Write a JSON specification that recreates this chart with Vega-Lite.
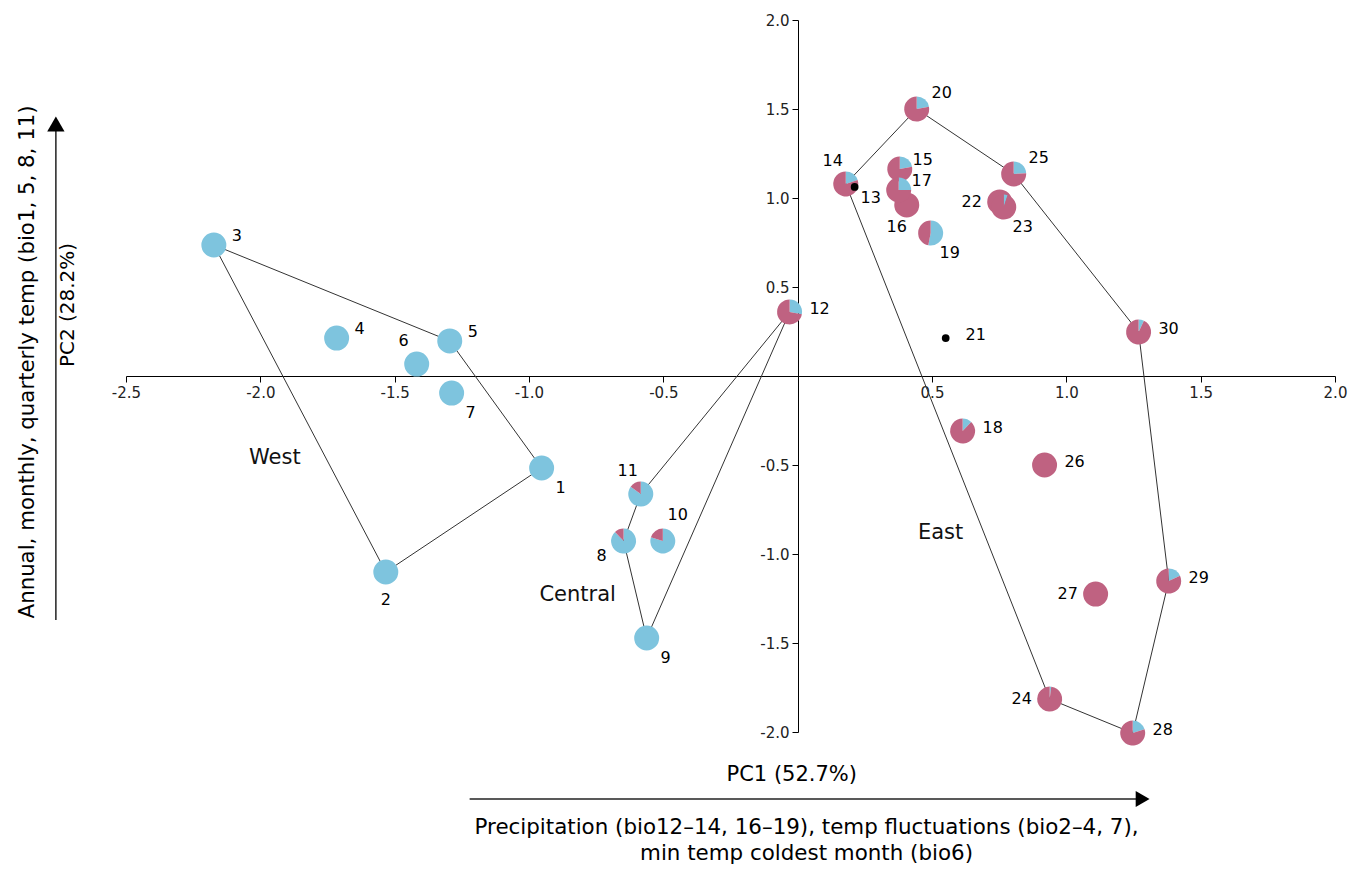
{
  "$schema": "https://vega.github.io/schema/vega-lite/v6.json",
  "width": 1209,
  "height": 712,
  "autosize": "none",
  "padding": {"left": 126, "top": 20, "right": 13, "bottom": 138},
  "background": "white",
  "config": {"view": {"stroke": null}, "font": "DejaVu Sans"},
  "datasets": {
    "pts": [
      {"id": "1", "x": -0.953, "y": -0.517, "blue": 1, "maroon": 0, "kind": "pie", "side": "dr"},
      {"id": "2", "x": -1.533, "y": -1.101, "blue": 1, "maroon": 0, "kind": "pie", "side": "d"},
      {"id": "3", "x": -2.173, "y": 0.736, "blue": 1, "maroon": 0, "kind": "pie", "side": "ur"},
      {"id": "4", "x": -1.716, "y": 0.213, "blue": 1, "maroon": 0, "kind": "pie", "side": "ur"},
      {"id": "5", "x": -1.295, "y": 0.197, "blue": 1, "maroon": 0, "kind": "pie", "side": "ur"},
      {"id": "6", "x": -1.418, "y": 0.067, "blue": 1, "maroon": 0, "kind": "pie", "side": "ul"},
      {"id": "7", "x": -1.288, "y": -0.096, "blue": 1, "maroon": 0, "kind": "pie", "side": "dr"},
      {"id": "8", "x": -0.648, "y": -0.927, "blue": 0.88, "maroon": 0.12, "kind": "pie", "side": "dl"},
      {"id": "9", "x": -0.562, "y": -1.472, "blue": 1, "maroon": 0, "kind": "pie", "side": "dr"},
      {"id": "10", "x": -0.502, "y": -0.927, "blue": 0.8, "maroon": 0.2, "kind": "pie", "side": "u"},
      {"id": "11", "x": -0.584, "y": -0.663, "blue": 0.85, "maroon": 0.15, "kind": "pie", "side": "ul"},
      {"id": "12", "x": -0.030, "y": 0.360, "blue": 0.28, "maroon": 0.72, "kind": "pie", "side": "r"},
      {"id": "13", "x": 0.212, "y": 1.062, "blue": 0, "maroon": 0, "kind": "dot", "side": "dr2"},
      {"id": "14", "x": 0.179, "y": 1.079, "blue": 0.2, "maroon": 0.8, "kind": "pie", "side": "ul"},
      {"id": "15", "x": 0.380, "y": 1.163, "blue": 0.22, "maroon": 0.78, "kind": "pie", "side": "ur"},
      {"id": "16", "x": 0.406, "y": 0.961, "blue": 0, "maroon": 1, "kind": "pie", "side": "dd"},
      {"id": "17", "x": 0.376, "y": 1.045, "blue": 0.25, "maroon": 0.75, "kind": "pie", "side": "ur"},
      {"id": "18", "x": 0.614, "y": -0.309, "blue": 0.12, "maroon": 0.88, "kind": "pie", "side": "r"},
      {"id": "19", "x": 0.495, "y": 0.803, "blue": 0.53, "maroon": 0.47, "kind": "pie", "side": "dr"},
      {"id": "20", "x": 0.443, "y": 1.500, "blue": 0.22, "maroon": 0.78, "kind": "pie", "side": "uur"},
      {"id": "21", "x": 0.551, "y": 0.213, "blue": 0, "maroon": 0, "kind": "dot", "side": "r"},
      {"id": "22", "x": 0.752, "y": 0.978, "blue": 0, "maroon": 1, "kind": "pie", "side": "l"},
      {"id": "23", "x": 0.767, "y": 0.949, "blue": 0.05, "maroon": 0.95, "kind": "pie", "side": "dr"},
      {"id": "24", "x": 0.938, "y": -1.815, "blue": 0.02, "maroon": 0.98, "kind": "pie", "side": "l"},
      {"id": "25", "x": 0.804, "y": 1.135, "blue": 0.24, "maroon": 0.76, "kind": "pie", "side": "uur"},
      {"id": "26", "x": 0.919, "y": -0.500, "blue": 0, "maroon": 1, "kind": "pie", "side": "r"},
      {"id": "27", "x": 1.109, "y": -1.225, "blue": 0, "maroon": 1, "kind": "pie", "side": "l"},
      {"id": "28", "x": 1.247, "y": -2.006, "blue": 0.2, "maroon": 0.8, "kind": "pie", "side": "r"},
      {"id": "29", "x": 1.381, "y": -1.152, "blue": 0.18, "maroon": 0.82, "kind": "pie", "side": "r"},
      {"id": "30", "x": 1.269, "y": 0.247, "blue": 0.07, "maroon": 0.93, "kind": "pie", "side": "r"}
    ],
    "hull": [
      {"group": "West", "ord": 1, "id": "3"},
      {"group": "West", "ord": 2, "id": "5"},
      {"group": "West", "ord": 3, "id": "1"},
      {"group": "West", "ord": 4, "id": "2"},
      {"group": "West", "ord": 5, "id": "3"},
      {"group": "Central", "ord": 1, "id": "12"},
      {"group": "Central", "ord": 2, "id": "11"},
      {"group": "Central", "ord": 3, "id": "8"},
      {"group": "Central", "ord": 4, "id": "9"},
      {"group": "Central", "ord": 5, "id": "12"},
      {"group": "East", "ord": 1, "id": "14"},
      {"group": "East", "ord": 2, "id": "20"},
      {"group": "East", "ord": 3, "id": "25"},
      {"group": "East", "ord": 4, "id": "30"},
      {"group": "East", "ord": 5, "id": "29"},
      {"group": "East", "ord": 6, "id": "28"},
      {"group": "East", "ord": 7, "id": "24"},
      {"group": "East", "ord": 8, "id": "14"}
    ],
    "regions": [
      {"name": "West", "x": -1.946, "y": -0.461},
      {"name": "Central", "x": -0.819, "y": -1.230},
      {"name": "East", "x": 0.532, "y": -0.882}
    ]
  },
  "data": {"name": "pts"},
  "layer": [
    {
      "data": {"name": "hull"},
      "transform": [
        {"lookup": "id", "from": {"data": {"name": "pts"}, "key": "id", "fields": ["x", "y"]}}
      ],
      "mark": {"type": "line", "color": "#333333", "strokeWidth": 1},
      "encoding": {
        "x": {
          "field": "x", "type": "quantitative",
          "scale": {"domain": [-2.5, 2], "nice": false, "zero": false},
          "axis": {
            "title": null, "orient": "bottom", "offset": -356,
            "values": [-2.5, -2, -1.5, -1, -0.5, 0.5, 1, 1.5, 2],
            "labelExpr": "(datum.value < 0 ? '-' : '') + format(abs(datum.value), '.1f')",
            "grid": false, "domainColor": "#000000", "domainWidth": 1,
            "tickColor": "#000000", "tickSize": 6, "tickWidth": 1,
            "labelFont": "DejaVu Sans", "labelFontSize": 15, "labelColor": "#222222",
            "labelPadding": 3, "labelFlush": false, "labelOverlap": false, "zindex": 0
          }
        },
        "y": {
          "field": "y", "type": "quantitative",
          "scale": {"domain": [-2, 2], "nice": false, "zero": false},
          "axis": {
            "title": null, "orient": "left", "offset": -672,
            "values": [-2, -1.5, -1, -0.5, 0.5, 1, 1.5, 2],
            "labelExpr": "(datum.value < 0 ? '-' : '') + format(abs(datum.value), '.1f')",
            "grid": false, "domainColor": "#000000", "domainWidth": 1,
            "tickColor": "#000000", "tickSize": 6, "tickWidth": 1,
            "labelFont": "DejaVu Sans", "labelFontSize": 15, "labelColor": "#222222",
            "labelPadding": 3, "labelFlush": false, "labelOverlap": false, "zindex": 0
          }
        },
        "detail": {"field": "group"},
        "order": {"field": "ord"}
      }
    },
    {
      "transform": [
        {"filter": "datum.kind == 'pie'"},
        {"fold": ["blue", "maroon"], "as": ["part", "frac"]},
        {"stack": "frac", "groupby": ["id"], "sort": [{"field": "part", "order": "ascending"}], "offset": "normalize", "as": ["t0", "t1"]}
      ],
      "mark": {"type": "arc", "radius": 12.5},
      "encoding": {
        "x": {"field": "x", "type": "quantitative"},
        "y": {"field": "y", "type": "quantitative"},
        "theta": {"field": "t0", "type": "quantitative", "stack": null, "scale": {"domain": [0, 1], "range": [0, 6.283185307]}},
        "theta2": {"field": "t1"},
        "color": {"field": "part", "type": "nominal", "scale": {"domain": ["blue", "maroon"], "range": ["#7ec4de", "#bf6281"]}, "legend": null},
        "detail": {"field": "id"}
      }
    },
    {
      "transform": [{"filter": "datum.kind == 'dot'"}],
      "mark": {"type": "point", "shape": "circle", "filled": true, "color": "#000000", "opacity": 1, "size": 60},
      "encoding": {
        "x": {"field": "x", "type": "quantitative"},
        "y": {"field": "y", "type": "quantitative"}
      }
    },
    {
      "transform": [{"filter": "datum.side == 'r'"}],
      "mark": {"type": "text", "dx": 30, "dy": -3, "fontSize": 16, "font": "DejaVu Sans", "color": "#000000"},
      "encoding": {"x": {"field": "x", "type": "quantitative"}, "y": {"field": "y", "type": "quantitative"}, "text": {"field": "id", "type": "nominal"}}
    },
    {
      "transform": [{"filter": "datum.side == 'ur'"}],
      "mark": {"type": "text", "dx": 23, "dy": -9, "fontSize": 16, "font": "DejaVu Sans", "color": "#000000"},
      "encoding": {"x": {"field": "x", "type": "quantitative"}, "y": {"field": "y", "type": "quantitative"}, "text": {"field": "id", "type": "nominal"}}
    },
    {
      "transform": [{"filter": "datum.side == 'uur'"}],
      "mark": {"type": "text", "dx": 25, "dy": -16, "fontSize": 16, "font": "DejaVu Sans", "color": "#000000"},
      "encoding": {"x": {"field": "x", "type": "quantitative"}, "y": {"field": "y", "type": "quantitative"}, "text": {"field": "id", "type": "nominal"}}
    },
    {
      "transform": [{"filter": "datum.side == 'dr'"}],
      "mark": {"type": "text", "dx": 19, "dy": 20, "fontSize": 16, "font": "DejaVu Sans", "color": "#000000"},
      "encoding": {"x": {"field": "x", "type": "quantitative"}, "y": {"field": "y", "type": "quantitative"}, "text": {"field": "id", "type": "nominal"}}
    },
    {
      "transform": [{"filter": "datum.side == 'dr2'"}],
      "mark": {"type": "text", "dx": 16, "dy": 11, "fontSize": 16, "font": "DejaVu Sans", "color": "#000000"},
      "encoding": {"x": {"field": "x", "type": "quantitative"}, "y": {"field": "y", "type": "quantitative"}, "text": {"field": "id", "type": "nominal"}}
    },
    {
      "transform": [{"filter": "datum.side == 'd'"}],
      "mark": {"type": "text", "dx": 0, "dy": 28, "fontSize": 16, "font": "DejaVu Sans", "color": "#000000"},
      "encoding": {"x": {"field": "x", "type": "quantitative"}, "y": {"field": "y", "type": "quantitative"}, "text": {"field": "id", "type": "nominal"}}
    },
    {
      "transform": [{"filter": "datum.side == 'ul'"}],
      "mark": {"type": "text", "dx": -13, "dy": -23, "fontSize": 16, "font": "DejaVu Sans", "color": "#000000"},
      "encoding": {"x": {"field": "x", "type": "quantitative"}, "y": {"field": "y", "type": "quantitative"}, "text": {"field": "id", "type": "nominal"}}
    },
    {
      "transform": [{"filter": "datum.side == 'u'"}],
      "mark": {"type": "text", "dx": 15, "dy": -26, "fontSize": 16, "font": "DejaVu Sans", "color": "#000000"},
      "encoding": {"x": {"field": "x", "type": "quantitative"}, "y": {"field": "y", "type": "quantitative"}, "text": {"field": "id", "type": "nominal"}}
    },
    {
      "transform": [{"filter": "datum.side == 'dl'"}],
      "mark": {"type": "text", "dx": -22, "dy": 15, "fontSize": 16, "font": "DejaVu Sans", "color": "#000000"},
      "encoding": {"x": {"field": "x", "type": "quantitative"}, "y": {"field": "y", "type": "quantitative"}, "text": {"field": "id", "type": "nominal"}}
    },
    {
      "transform": [{"filter": "datum.side == 'dd'"}],
      "mark": {"type": "text", "dx": -10, "dy": 22, "fontSize": 16, "font": "DejaVu Sans", "color": "#000000"},
      "encoding": {"x": {"field": "x", "type": "quantitative"}, "y": {"field": "y", "type": "quantitative"}, "text": {"field": "id", "type": "nominal"}}
    },
    {
      "transform": [{"filter": "datum.side == 'l'"}],
      "mark": {"type": "text", "dx": -28, "dy": 0, "fontSize": 16, "font": "DejaVu Sans", "color": "#000000"},
      "encoding": {"x": {"field": "x", "type": "quantitative"}, "y": {"field": "y", "type": "quantitative"}, "text": {"field": "id", "type": "nominal"}}
    },
    {
      "data": {"name": "regions"},
      "mark": {"type": "text", "fontSize": 21, "font": "DejaVu Sans", "color": "#111111"},
      "encoding": {"x": {"field": "x", "type": "quantitative"}, "y": {"field": "y", "type": "quantitative"}, "text": {"field": "name", "type": "nominal"}}
    },
    {
      "data": {"values": [{}]},
      "mark": {"type": "text", "text": "PC1 (52.7%)", "fontSize": 21, "font": "DejaVu Sans", "color": "#000000"},
      "encoding": {"x": {"datum": -0.022}, "y": {"datum": -2.242}}
    },
    {
      "data": {"values": [{}]},
      "mark": {"type": "text", "text": "Precipitation (bio12–14, 16–19), temp fluctuations (bio2–4, 7),", "fontSize": 21.4, "font": "DejaVu Sans", "color": "#000000"},
      "encoding": {"x": {"datum": 0.033}, "y": {"datum": -2.539}}
    },
    {
      "data": {"values": [{}]},
      "mark": {"type": "text", "text": "min temp coldest month (bio6)", "fontSize": 21.4, "font": "DejaVu Sans", "color": "#000000"},
      "encoding": {"x": {"datum": 0.033}, "y": {"datum": -2.685}}
    },
    {
      "data": {"values": [{}]},
      "mark": {"type": "rule", "color": "#222222", "strokeWidth": 1.5},
      "encoding": {"x": {"datum": -1.221}, "x2": {"datum": 1.265}, "y": {"datum": -2.376}}
    },
    {
      "data": {"values": [{}]},
      "mark": {"type": "point", "shape": "triangle-right", "filled": true, "color": "#000000", "opacity": 1, "size": 256},
      "encoding": {"x": {"datum": 1.284}, "y": {"datum": -2.376}}
    },
    {
      "data": {"values": [{}]},
      "mark": {"type": "rule", "color": "#222222", "strokeWidth": 1.5},
      "encoding": {"x": {"datum": -2.761}, "y": {"datum": -1.371}, "y2": {"datum": 1.393}}
    },
    {
      "data": {"values": [{}]},
      "mark": {"type": "point", "shape": "triangle-up", "filled": true, "color": "#000000", "opacity": 1, "size": 300},
      "encoding": {"x": {"datum": -2.761}, "y": {"datum": 1.416}}
    },
    {
      "data": {"values": [{}]},
      "mark": {"type": "text", "text": "Annual, monthly, quarterly temp (bio1, 5, 8, 11)", "angle": 270, "fontSize": 21.3, "font": "DejaVu Sans", "color": "#000000"},
      "encoding": {"x": {"datum": -2.866}, "y": {"datum": 0.079}}
    },
    {
      "data": {"values": [{}]},
      "mark": {"type": "text", "text": "PC2 (28.2%)", "angle": 270, "fontSize": 20, "font": "DejaVu Sans", "color": "#000000"},
      "encoding": {"x": {"datum": -2.717}, "y": {"datum": 0.399}}
    }
  ]
}
